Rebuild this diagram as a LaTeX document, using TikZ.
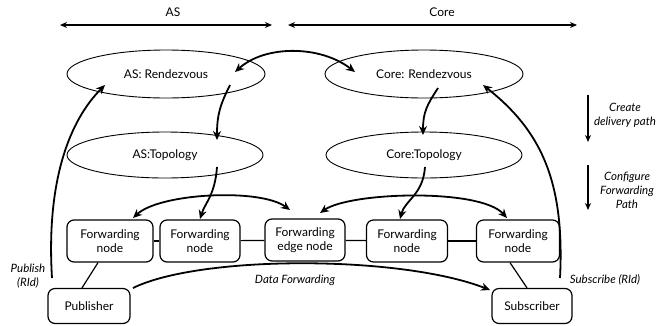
\documentclass[tikz,border=0pt]{standalone}
\usepackage{fontspec}
\setmainfont{Lato}
\usetikzlibrary{arrows.meta,shapes.geometric}
\begin{document}
\begin{tikzpicture}[x=1pt,y=-1pt,
  ell/.style={ellipse,draw,line width=0.9pt,minimum width=198pt,minimum height=48pt,inner sep=0pt,font=\fontsize{12}{14}\selectfont},
  box/.style={draw,rounded corners=7pt,line width=1.2pt,minimum height=42pt,align=center,inner sep=1pt,font=\fontsize{12}{14}\selectfont},
  conn/.style={line width=1.8pt,-{Stealth[length=9pt,width=8pt]}},
  dconn/.style={line width=1.8pt,{Stealth[length=9pt,width=8pt]}-{Stealth[length=9pt,width=8pt]}},
  link/.style={line width=1.2pt},
  lbl/.style={font=\itshape\fontsize{11.5}{14}\selectfont,align=center},
  side/.style={line width=1.1pt,-{Stealth[length=7pt,width=6pt]}},
  span/.style={line width=1.4pt,{Stealth[length=7pt,width=6pt]}-{Stealth[length=7pt,width=6pt]}}
]
\useasboundingbox (0,0) rectangle (660,325);

% top spans
\coordinate (asL) at (60,25);
\coordinate (asRr) at (272,25);
\coordinate (coL) at (288,25);
\coordinate (coRr) at (577,25);
\draw[span] (asL) -- (asRr);
\draw[span] (coL) -- (coRr);
\node[font=\fontsize{12}{14}\selectfont] (lAS) at (173,12) {AS};
\node[font=\fontsize{12}{14}\selectfont] (lCore) at (442,12) {Core};

% ellipses
\node[ell] (asR) at (166,74) {AS: Rendezvous};
\node[ell] (coR) at (424,74) {Core: Rendezvous};
\node[ell,minimum height=46pt,minimum width=196pt] (asT) at (165,155) {AS:Topology};
\node[ell,minimum height=46pt,minimum width=196pt] (coT) at (424,155) {Core:Topology};

% forwarding nodes
\node[box,minimum width=86pt] (f1) at (110,241) {Forwarding\\node};
\node[box,minimum width=80pt] (f2) at (200,241) {Forwarding\\node};
\node[box,minimum width=80pt] (fe) at (305,240) {Forwarding\\edge node};
\node[box,minimum width=81pt] (f4) at (407,241) {Forwarding\\node};
\node[box,minimum width=83pt] (f5) at (518,241) {Forwarding\\node};
\node[box,minimum width=82pt,minimum height=35pt] (pub) at (89,306) {Publisher};
\node[box,minimum width=80pt,minimum height=35pt] (sub) at (532,306) {Subscriber};

% links
\draw[link] (f1) -- (f2);
\draw[link] (f2) -- (fe);
\draw[link] (fe) -- (f4);
\draw[link] (f4) -- (f5);
\draw[link] ([xshift=-7pt]pub.north) -- ([xshift=-12pt]f1.south);
\draw[link] ([xshift=-5pt]sub.north) -- ([xshift=-8pt]f5.south);

% rendezvous exchange
\coordinate (rzA) at (235,72);
\coordinate (rzB) at (355,72);
\draw[dconn] (rzA) .. controls (265,45) and (320,45) .. (rzB);

% rendezvous -> topology
\coordinate (asRo) at (230,85);
\coordinate (asTi) at (217,140);
\draw[conn] (asRo) .. controls (220,105) and (217,115) .. (asTi);
\coordinate (coRo) at (438,88);
\coordinate (coTi) at (423,135);
\draw[conn] (coRo) .. controls (427,105) and (423,112) .. (coTi);

% topology -> forwarding
\coordinate (asTo) at (217,167);
\coordinate (f2i) at (200,219);
\draw[conn] (asTo) .. controls (215,195) and (205,203) .. (f2i);
\coordinate (f1i) at (133,218);
\coordinate (fei) at (290,210);
\draw[dconn] (f1i) .. controls (160,193) and (260,188) .. (fei);
\coordinate (coTo) at (425,167);
\coordinate (f4i) at (400,219);
\draw[conn] (coTo) .. controls (423,195) and (405,200) .. (f4i);
\coordinate (fej) at (320,213);
\coordinate (f5i) at (507,218);
\draw[dconn] (fej) .. controls (350,192) and (480,188) .. (f5i);

% publish / subscribe
\coordinate (pubo) at (52,278);
\coordinate (asRi) at (105,85);
\draw[conn] (pubo) .. controls (46,180) and (70,120) .. (asRi);
\coordinate (subo) at (560,278);
\coordinate (coRi) at (483,85);
\draw[conn] (subo) .. controls (565,180) and (540,130) .. (coRi);

% data forwarding
\coordinate (pubd) at (133,288);
\coordinate (subd) at (490,290);
\draw[conn] (pubd) .. controls (200,255) and (400,255) .. (subd);

% labels
\node[lbl] (lpub) at (28,276) {Publish\\(RId)};
\node[lbl] (lsub) at (605,280) {Subscribe (RId)};
\node[lbl] (ldf) at (295,280) {Data Forwarding};
\node[lbl] (lcr) at (625,115) {Create\\delivery path};
\node[lbl] (lcf) at (627,190) {Configure\\Forwarding\\Path};

% side arrows
\coordinate (s1a) at (588,95);
\coordinate (s1b) at (588,142);
\coordinate (s2a) at (588,165);
\coordinate (s2b) at (588,210);
\draw[side] (s1a) -- (s1b);
\draw[side] (s2a) -- (s2b);
\end{tikzpicture}
\end{document}
